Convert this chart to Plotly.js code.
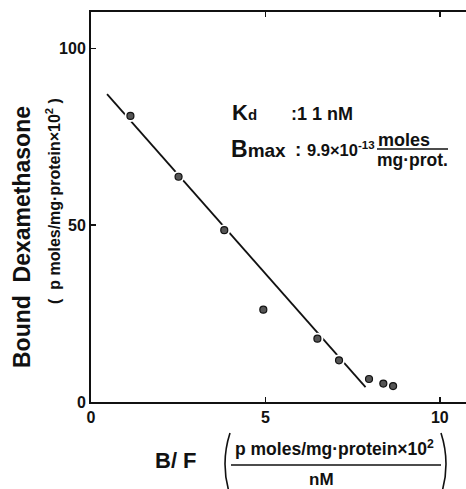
<!DOCTYPE html>
<html>
<head>
<meta charset="utf-8">
<script src="https://cdn.plot.ly/plotly-3.0.1.min.js"></script>
<style>
  html, body { margin: 0; padding: 0; background: #fff; overflow: hidden; }
  #chart { width: 466px; height: 489px; }
</style>
</head>
<body>
<div id="chart"></div>
<script>
// Scatchard plot of dexamethasone binding
const boundOverFree = [1.13, 2.51, 3.82, 4.94, 6.49, 7.11, 7.97, 8.38, 8.66];
const boundDex      = [80.9, 63.7, 48.6, 26.1, 17.9, 11.8, 6.5, 5.2, 4.5];

// regression line end points
const fitX = [0.46, 7.87];
const fitY = [87.1, 4.2];

const xTicks = [0, 5, 10];
const yTicks = [0, 50, 100];

const FONT = '"Liberation Sans", Arial, sans-serif';

// plot-area geometry in pixels, used to place text around the axes
const W = 466, H = 489, L = 91, T = 12, B = 87, R = 0;
const pw = W - L - R, ph = H - T - B;
const px = v => (v - L) / pw;
const py = v => (H - B - v) / ph;

const traces = [
  { x: fitX, y: fitY, mode: 'lines', line: { color: '#111', width: 1.8 }, hoverinfo: 'skip' },
  { x: boundOverFree, y: boundDex, mode: 'markers',
    marker: { size: 12, color: '#fff', line: { width: 0 } }, hoverinfo: 'skip' },
  { x: boundOverFree, y: boundDex, mode: 'markers',
    marker: { size: 7, color: '#555', line: { color: '#111', width: 1.2 } } }
];

function ann(text, x, y, size, opts) {
  return Object.assign({
    text: text, xref: 'paper', yref: 'paper', x: px(x), y: py(y),
    showarrow: false, xanchor: 'center', yanchor: 'middle',
    font: { family: FONT, size: size, color: '#111', weight: 'bold' }
  }, opts || {});
}

const annotations = [
  ann('Bound  Dexamethasone', 22, 237, 23, { textangle: -90 }),
  ann('(  p moles/mg·protein×10<sup>2</sup> )', 53, 201, 16, { textangle: -90 }),
  ann('B/ F', 176, 461, 22),
  ann('p moles/mg·protein×10<sup>2</sup>', 334, 448, 17.5),
  ann('nM', 321, 479, 17),
  ann('K<span style="font-size:15px">d</span>', 230, 113, 22, { xanchor: 'left' }),
  ann(':1 1 nM', 289, 114, 18, { xanchor: 'left' }),
  ann('B<span style="font-size:19px">max</span>', 229, 149, 23, { xanchor: 'left' }),
  ann(':', 298, 149, 19),
  ann('9.9×10<sup>-13</sup>', 305, 149, 16.5, { xanchor: 'left' }),
  ann('moles', 404, 140, 18),
  ann('mg·prot.', 412, 160, 17.5)
];

const line = (x0, y0, x1, y1, w) => ({
  type: 'line', xref: 'paper', yref: 'paper',
  x0: px(x0), y0: py(y0), x1: px(x1), y1: py(y1),
  line: { color: '#111', width: w }
});
const paren = (xa, xb, y0, y1) => ({
  type: 'path', xref: 'paper', yref: 'paper',
  path: 'M ' + px(xa) + ' ' + py(y0) + ' Q ' + px(xb) + ' ' + py((y0 + y1) / 2) + ' ' + px(xa) + ' ' + py(y1),
  line: { color: '#111', width: 1.6 }
});

const shapes = [
  line(231, 465, 441, 465, 1.6),   // fraction bar under the x title
  line(377, 149, 448, 149, 1.4),   // fraction bar in the Bmax label
  paren(230, 220, 433, 495),
  paren(441, 451, 433, 495)
];

const axisCommon = {
  showline: true, linecolor: '#111', linewidth: 2,
  ticks: 'inside', ticklen: 5, tickwidth: 1.5, tickcolor: '#111',
  showgrid: false, zeroline: false, tickmode: 'array',
  tickfont: { family: FONT, size: 16, color: '#111', weight: 'bold' }
};

const layout = {
  width: W, height: H,
  margin: { l: L, r: R, t: T, b: B },
  paper_bgcolor: '#fff', plot_bgcolor: '#fff',
  showlegend: false,
  xaxis: Object.assign({}, axisCommon, {
    range: [0, 10.75], tickvals: xTicks, ticktext: xTicks.map(String), mirror: 'ticks'
  }),
  yaxis: Object.assign({}, axisCommon, {
    range: [0, 110.3], tickvals: yTicks, ticktext: yTicks.map(String)
  }),
  annotations: annotations,
  shapes: shapes
};

Plotly.newPlot('chart', traces, layout, { staticPlot: true, displayModeBar: false });
</script>
</body>
</html>
